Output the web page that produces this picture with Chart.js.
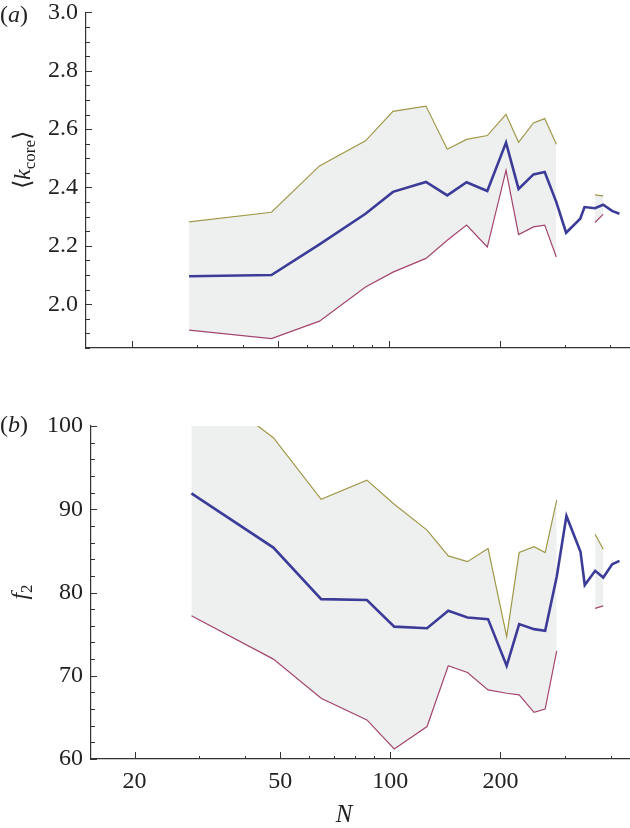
<!DOCTYPE html>
<html>
<head>
<meta charset="utf-8">
<script src="https://cdn.jsdelivr.net/npm/chart.js@4.4.1/dist/chart.umd.min.js"></script>
<style>
  body { margin: 0; background: #fff; overflow: hidden; }
  #wrap { position: relative; width: 630px; height: 828px; overflow: hidden; }
  canvas { position: absolute; left: 0; }
</style>
</head>
<body>
<div id="wrap">
  <canvas id="chartA" width="630" height="390" style="top:-10px"></canvas>
  <canvas id="chartB" width="630" height="448" style="top:380px"></canvas>
</div>
<script>
// network size N (shared by both panels)
const sizes = [28.6, 47.9, 64.7, 86.3, 102.5, 126, 144, 162.5, 185, 208, 225, 247, 265, 285, 303, 331, 340, 363, 382, 404, 423];

// panel (a): mean k-core and band
const kMean  = [2.096, 2.100, 2.205, 2.310, 2.385, 2.419, 2.373, 2.418, 2.388, 2.554, 2.395, 2.445, 2.453, 2.350, 2.245, 2.293, 2.333, 2.329, 2.341, 2.320, 2.310];
const kUpper = [2.282, 2.315, 2.474, 2.560, 2.661, 2.679, 2.531, 2.565, 2.578, 2.651, 2.555, 2.621, 2.636, 2.548, null, null, null, 2.375, 2.371, null, null];
const kLower = [1.911, 1.882, 1.942, 2.059, 2.110, 2.157, 2.219, 2.271, 2.196, 2.459, 2.239, 2.265, 2.271, 2.162, null, null, null, 2.280, 2.308, null, null];

// panel (b): f2 and band
const fMean  = [91.9, 85.4, 79.2, 79.1, 75.9, 75.7, 77.8, 77.0, 76.8, 71.2, 76.2, 75.6, 75.4, 81.9, 89.2, 84.9, 80.9, 82.6, 81.8, 83.4, 83.8];
const fUpper = [106.0, 98.6, 91.2, 93.5, 90.6, 87.5, 84.4, 83.7, 85.3, 74.7, 84.8, 85.5, 84.8, 91.1, null, null, null, 87.0, 85.2, null, null];
const fLower = [77.2, 72.0, 67.3, 64.7, 61.2, 63.9, 71.2, 70.4, 68.3, 67.9, 67.7, 65.6, 66.0, 73.0, null, null, null, 78.1, 78.4, null, null];

// ticks
const xTicks = [20, 50, 100, 200];
const xMinor = [30, 40, 60, 70, 80, 90, 300, 400];
const kTicks = [2.0, 2.2, 2.4, 2.6, 2.8, 3.0];
const fTicks = [60, 70, 80, 90, 100];

const serif = "'Liberation Serif', 'Times New Roman', serif";
const axisColor = '#333333';
const meanColor = '#3c3c98';
const upperColor = '#a09848';
const lowerColor = '#a4456f';
const bandColor = '#eef0f0';

function steps(from, to, step, skip) {
  const out = [];
  for (let v = from; v <= to + 1e-9; v += step) {
    const r = Math.round(v * 1000) / 1000;
    if (!skip.some(s => Math.abs(s - r) < 1e-6)) out.push(r);
  }
  return out;
}

function drawRich(ctx, item) {
  ctx.save();
  ctx.translate(item.x, item.y);
  if (item.rot) ctx.rotate(item.rot);
  ctx.textBaseline = 'alphabetic';
  ctx.textAlign = 'left';
  ctx.fillStyle = '#222';
  let w = 0;
  item.parts.forEach(p => { ctx.font = p.f; p.w = ctx.measureText(p.t).width; w += p.w; });
  let cx = item.align === 'center' ? -w / 2 : 0;
  item.parts.forEach(p => {
    ctx.font = p.f;
    ctx.fillText(p.t, cx, p.dy || 0);
    cx += p.w;
  });
  ctx.restore();
}

// inward tick marks + rich text labels
const decor = {
  id: 'decor',
  afterDraw(chart, args, opts) {
    const ctx = chart.ctx, a = chart.chartArea;
    const xs = chart.scales.x, ys = chart.scales.y;
    ctx.save();
    ctx.strokeStyle = axisColor;
    ctx.lineWidth = 1;
    ctx.beginPath();
    opts.yMajor.forEach(v => {
      const y = Math.round(ys.getPixelForValue(v)) + 0.5;
      ctx.moveTo(a.left, y); ctx.lineTo(a.left + 6, y);
    });
    opts.yMinor.forEach(v => {
      const y = Math.round(ys.getPixelForValue(v)) + 0.5;
      ctx.moveTo(a.left, y); ctx.lineTo(a.left + 4, y);
    });
    xTicks.forEach(v => {
      const x = Math.round(xs.getPixelForValue(v)) + 0.5;
      ctx.moveTo(x, a.bottom); ctx.lineTo(x, a.bottom - 7);
    });
    xMinor.forEach(v => {
      const x = Math.round(xs.getPixelForValue(v)) + 0.5;
      ctx.moveTo(x, a.bottom); ctx.lineTo(x, a.bottom - 3);
    });
    ctx.stroke();
    opts.texts.forEach(t => drawRich(ctx, t));
    ctx.restore();
  }
};

function makeChart(id, mean, upper, lower, yMin, yMax, yTicks, yMinor, yWidth, xHeight, topPad, xMin, showX, fmt, texts) {
  return new Chart(document.getElementById(id), {
    type: 'line',
    data: {
      labels: sizes,
      datasets: [
        { data: mean, borderColor: meanColor, borderWidth: 2.6, pointRadius: 0, fill: false, tension: 0 },
        { data: lower, borderColor: lowerColor, borderWidth: 1.2, pointRadius: 0, fill: false, tension: 0 },
        { data: upper, borderColor: upperColor, borderWidth: 1.2, pointRadius: 0, fill: 1, backgroundColor: bandColor, tension: 0 }
      ]
    },
    options: {
      responsive: false,
      animation: false,
      layout: { padding: { top: topPad, right: 0, left: 0, bottom: 0 } },
      plugins: {
        legend: { display: false },
        tooltip: { enabled: false },
        decor: { yMajor: yTicks, yMinor: yMinor, texts: texts }
      },
      scales: {
        x: {
          type: 'logarithmic',
          min: xMin,
          max: 452,
          grid: { display: false, drawTicks: false },
          border: { display: true, color: axisColor, width: 1.2 },
          afterBuildTicks: s => { s.ticks = xTicks.map(v => ({ value: v })); },
          afterFit: s => { s.height = xHeight; },
          ticks: {
            display: showX,
            padding: 8,
            autoSkip: false,
            maxRotation: 0,
            color: '#222',
            font: { family: serif, size: 24 },
            callback: v => String(v)
          }
        },
        y: {
          min: yMin,
          max: yMax,
          grid: { display: false, drawTicks: false },
          border: { display: true, color: axisColor, width: 1.2 },
          afterBuildTicks: s => { s.ticks = yTicks.map(v => ({ value: v })); },
          afterFit: s => { s.width = yWidth; },
          ticks: {
            padding: 8,
            color: '#222',
            font: { family: serif, size: 24 },
            callback: fmt
          }
        }
      }
    },
    plugins: [decor]
  });
}

const up = "24px " + serif;
const it = "italic 24px " + serif;
const sub = "17px " + serif;

// canvas A starts 10px above the page, so its y values are +10
makeChart('chartA', kMean, kUpper, kLower, 1.85, 3.0, kTicks, steps(1.85, 3.0, 0.05, kTicks), 86, 32, 22, 15, false,
  v => Number(v).toFixed(1),
  [
    { x: 0, y: 32, parts: [{ t: '(', f: up }, { t: 'a', f: it }, { t: ')', f: up }] },
    { x: 30, y: 170, rot: -Math.PI / 2, align: 'center',
      parts: [{ t: '\u27E8', f: up }, { t: 'k', f: it }, { t: 'core', f: sub, dy: 5 }, { t: '\u27E9', f: up }] }
  ]);

makeChart('chartB', fMean, fUpper, fLower, 60, 100, fTicks, steps(60, 100, 2, fTicks), 91, 69, 46, 15.2, true,
  v => String(v),
  [
    { x: 0, y: 52, parts: [{ t: '(', f: up }, { t: 'b', f: it }, { t: ')', f: up }] },
    { x: 27, y: 212, rot: -Math.PI / 2, align: 'center',
      parts: [{ t: 'f', f: it }, { t: '2', f: sub, dy: 5 }] },
    { x: 344, y: 442, align: 'center', parts: [{ t: 'N', f: "italic 25px " + serif }] }
  ]);
</script>
</body>
</html>
